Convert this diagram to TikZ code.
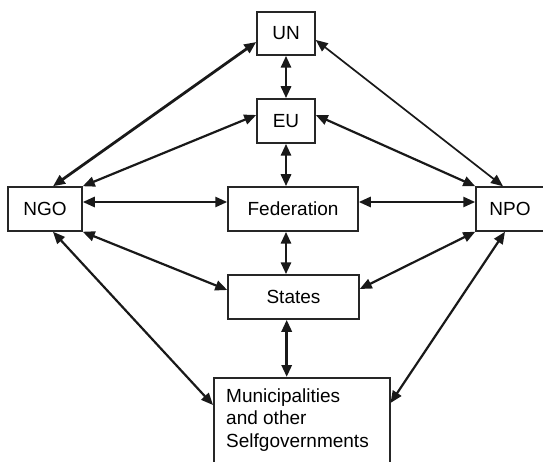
\documentclass[tikz,border=0pt]{standalone}
\usepackage{fontspec}
\setmainfont{Liberation Sans}
\usetikzlibrary{arrows.meta}
\begin{document}
\begin{tikzpicture}[x=1pt,y=-1pt,
  box/.style={draw=black!85, line width=1.5pt, inner sep=0pt, font=\fontsize{19}{22.5}\selectfont},
  link/.style={{Triangle[length=12pt,width=10pt]}-{Triangle[length=12pt,width=10pt]}, line width=2.2pt, black!90},
  vlink/.style={link, line width=2.9pt},
  hlink/.style={link, line width=2.6pt}]
\useasboundingbox (0,0) rectangle (543,462);
\node[box, minimum width=58pt, minimum height=43pt] (UN) at (286,33.5) {UN};
\node[box, minimum width=58pt, minimum height=44pt] (EU) at (286,121) {EU};
\node[box, minimum width=74pt, minimum height=44pt] (NGO) at (45,209) {NGO};
\node[box, minimum width=130pt, minimum height=44pt] (Fed) at (293,209) {Federation};
\node[box, minimum width=68pt, minimum height=44pt] (NPO) at (510,209) {NPO};
\node[box, minimum width=131pt, minimum height=44pt] (States) at (293.5,297) {States};
\node[box, minimum width=176pt, minimum height=110pt, anchor=north west] (mun) at (213,377) {};
\node[anchor=north west, inner sep=0pt, align=left, font=\fontsize{19}{22.5}\selectfont] (muntext) at (226,388.5) {Municipalities\\and other\\Selfgovernments};
% vertical
\draw[vlink] (UN.south) -- (EU.north);
\draw[vlink] (EU.south) -- (EU.south |- Fed.north);
\draw[vlink] (EU.south |- Fed.south) -- (EU.south |- States.north);
\draw[vlink] ([xshift=0.7pt]EU.south |- States.south) -- ([xshift=0.7pt]EU.south |- mun.north);
% horizontal
\draw[hlink] ([yshift=7pt]NGO.east) -- ([yshift=7pt]Fed.west);
\draw[hlink] ([yshift=7pt]Fed.east) -- ([yshift=7pt]NPO.west);
% diagonals
\draw[link, line width=2.8pt] ([xshift=8pt]NGO.north) -- ([yshift=-8.5pt]UN.west);
\draw[link] (NGO.north east) -- ([yshift=6pt]EU.west);
\draw[link, line width=1.7pt] ([xshift=-7pt]NPO.north) -- ([yshift=-6.5pt]UN.east);
\draw[link] (NPO.north west) -- ([yshift=6pt]EU.east);
\draw[link] (NGO.south east) -- ([yshift=7pt]States.west);
\draw[link] ([xshift=8pt]NGO.south) -- ([yshift=-28pt]mun.north west);
\draw[link] (NPO.south west) -- ([yshift=8pt]States.east);
\draw[link] ([xshift=-5pt]NPO.south) -- ([yshift=-26pt]mun.north east);
\end{tikzpicture}
\end{document}
